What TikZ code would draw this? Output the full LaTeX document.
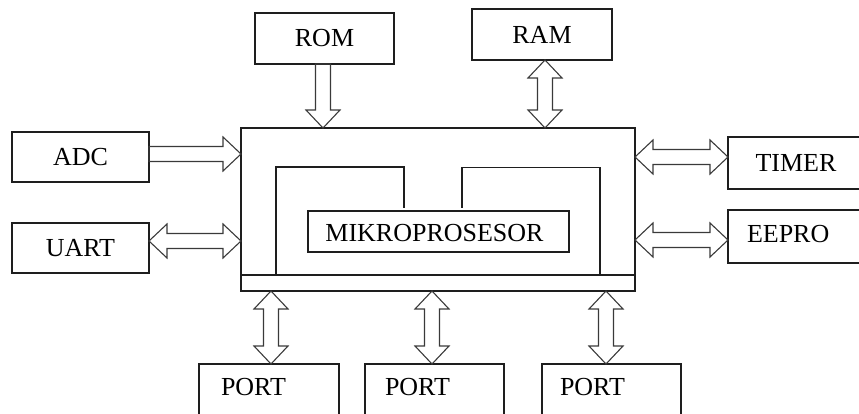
\documentclass[tikz,border=0pt]{standalone}
\usepackage{fontspec}
\setmainfont{Liberation Serif}
\usetikzlibrary{positioning, calc}
\definecolor{inkcolor}{HTML}{1E1E1E}
\definecolor{arrowcolor}{HTML}{3A3A3A}
\newcommand{\bshaft}{7.5pt}
\newcommand{\bhead}{17pt}
\newcommand{\blen}{18pt}

\begin{document}
\begin{tikzpicture}[
  x=1pt, y=-1pt,
  every node/.style={font=\fontsize{26}{30}\selectfont},
]

\tikzset{
  box/.style={rectangle, draw=inkcolor, line width=1.3pt, inner sep=0pt, outer sep=0pt},
  lbl/.style={inner sep=0pt, outer sep=0pt},
  wire/.style={draw=inkcolor, line width=1.3pt},
  % hollow bus arrow, tip at the target only
  busone/.style={draw=arrowcolor, line width=1.1pt, line join=miter, to path={
    -- ($(\tikztostart)!\bshaft!90:(\tikztotarget)$)
    -- ($(\tikztotarget)!\blen!(\tikztostart)!\bshaft!-90:(\tikztostart)$)
    -- ($(\tikztotarget)!\blen!(\tikztostart)!\bhead!-90:(\tikztostart)$)
    -- (\tikztotarget)
    -- ($(\tikztotarget)!\blen!(\tikztostart)!\bhead!90:(\tikztostart)$)
    -- ($(\tikztotarget)!\blen!(\tikztostart)!\bshaft!90:(\tikztostart)$)
    -- ($(\tikztostart)!\bshaft!-90:(\tikztotarget)$)
    -- cycle}},
  % hollow bus arrow, tips at both ends
  bustwo/.style={draw=arrowcolor, line width=1.1pt, line join=miter, to path={
    -- ($(\tikztostart)!\blen!(\tikztotarget)!\bhead!90:(\tikztotarget)$)
    -- ($(\tikztostart)!\blen!(\tikztotarget)!\bshaft!90:(\tikztotarget)$)
    -- ($(\tikztotarget)!\blen!(\tikztostart)!\bshaft!-90:(\tikztostart)$)
    -- ($(\tikztotarget)!\blen!(\tikztostart)!\bhead!-90:(\tikztostart)$)
    -- (\tikztotarget)
    -- ($(\tikztotarget)!\blen!(\tikztostart)!\bhead!90:(\tikztostart)$)
    -- ($(\tikztotarget)!\blen!(\tikztostart)!\bshaft!90:(\tikztostart)$)
    -- ($(\tikztostart)!\blen!(\tikztotarget)!\bshaft!-90:(\tikztotarget)$)
    -- ($(\tikztostart)!\blen!(\tikztotarget)!\bhead!-90:(\tikztotarget)$)
    -- cycle}},
}

\clip (0,0) rectangle (859,414);

% ---- microcontroller ----
\node[box, minimum width=394pt, minimum height=163pt] (mcu) at (438,209.5) {};
\node[box, minimum width=261pt, minimum height=41pt] (cpu) at (438.5,231.5) {};
\node[lbl] (cputxt) at ([xshift=-4pt, yshift=-2pt]cpu.center) {MIKROPROSESOR};
\draw[wire] ([yshift=16pt]mcu.south west) -- ([yshift=16pt]mcu.south east);
\draw[wire] (276,275) |- (404,167) -- (404,208);
\draw[wire] (462,208) |- (600,167.5) -- (600,275);

% ---- peripherals ----
\node[box, minimum width=139pt, minimum height=51pt] (rom) at (324.5,38.5) {ROM};
\node[box, minimum width=140pt, minimum height=51pt] (ram) at (542,34.5) {RAM};
\node[box, minimum width=137pt, minimum height=50pt] (adc) at (80.5,157) {ADC};
\node[box, minimum width=137pt, minimum height=50pt] (uart) at (80.5,248) {UART};
\node[box, minimum width=136pt, minimum height=52pt] (timer) at (796,163) {TIMER};
\node[box, minimum width=152pt, minimum height=53pt] (eepro) at (804,236.5) {};
\node[lbl, anchor=west] (eeprotxt) at ([xshift=19pt, yshift=2pt]eepro.west) {EEPRO};

\node[box, minimum width=140pt, minimum height=80pt] (port1) at (269,404) {};
\node[box, minimum width=139pt, minimum height=80pt] (port2) at (434.5,404) {};
\node[box, minimum width=139pt, minimum height=80pt] (port3) at (611.5,404) {};
\node[lbl, anchor=west] (port1txt) at ([xshift=22pt, yshift=-23.5pt]port1.north west) {PORT};
\node[lbl, anchor=west] (port2txt) at ([xshift=20pt, yshift=-23.5pt]port2.north west) {PORT};
\node[lbl, anchor=west] (port3txt) at ([xshift=18pt, yshift=-23.5pt]port3.north west) {PORT};

% ---- buses ----
\coordinate (romin) at ([xshift=-1.5pt]rom.south |- mcu.north);
\coordinate (ramin) at ([xshift=3pt]ram.south |- mcu.north);
\coordinate (adcin) at ([yshift=3pt]adc.east -| mcu.west);
\coordinate (uartin) at ([yshift=7pt]uart.east -| mcu.west);
\coordinate (timerin) at ([yshift=6pt]timer.west -| mcu.east);
\coordinate (eeproin) at ([yshift=-3.5pt]eepro.west -| mcu.east);

\draw[busone] ([xshift=-1.5pt]rom.south) to (romin);
\draw[bustwo] ([xshift=3pt]ram.south) to (ramin);
\draw[busone] ([yshift=3pt]adc.east) to (adcin);
\draw[bustwo] ([yshift=7pt]uart.east) to (uartin);
\draw[bustwo] (timerin) to ([yshift=6pt]timer.west);
\draw[bustwo] (eeproin) to ([yshift=-3.5pt]eepro.west);

\draw[bustwo] ([xshift=2pt]port1.north |- mcu.south) to ([xshift=2pt]port1.north);
\draw[bustwo] ([xshift=-2.5pt]port2.north |- mcu.south) to ([xshift=-2.5pt]port2.north);
\draw[bustwo] ([xshift=-5.5pt]port3.north |- mcu.south) to ([xshift=-5.5pt]port3.north);

\end{tikzpicture}
\end{document}
